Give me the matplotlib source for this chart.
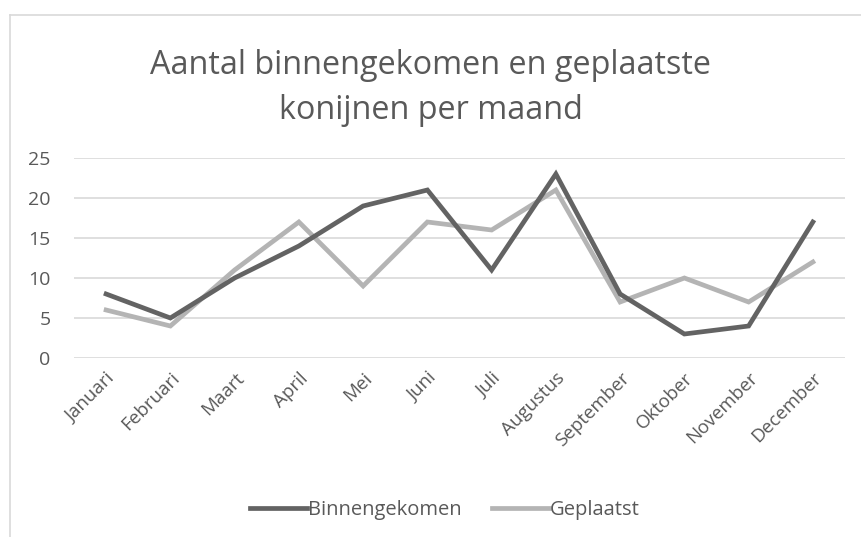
import matplotlib.pyplot as plt
from matplotlib.lines import Line2D

plt.rcParams['font.family'] = ['Open Sans', 'DejaVu Sans']

# data
maanden = ['Januari', 'Februari', 'Maart', 'April', 'Mei', 'Juni', 'Juli',
           'Augustus', 'September', 'Oktober', 'November', 'December']
binnengekomen = [8, 5, 10, 14, 19, 21, 11, 23, 8, 3, 4, 17]
geplaatst = [6, 4, 11, 17, 9, 17, 16, 21, 7, 10, 7, 12]
y_ticks = [0, 5, 10, 15, 20, 25]

text_col = '#595959'
dark = '#636363'
light = '#b4b4b4'

fig = plt.figure(figsize=(8.61, 5.37), dpi=100)
# plot area in pixel terms: x 74..845, y 158..358
ax = fig.add_axes([74 / 861, 1 - 358 / 537, (845 - 74) / 861, 200 / 537])

x = list(range(len(maanden)))
ax.plot(x, geplaatst, color=light, lw=3.4, solid_joinstyle='miter', zorder=3)
ax.plot(x, binnengekomen, color=dark, lw=3.4, solid_joinstyle='miter', zorder=4)

ax.set_xlim(-0.5, len(maanden) - 0.5)
ax.set_ylim(0, 25)
ax.set_yticks(y_ticks)
ax.set_xticks(x)
ax.set_xticklabels(maanden, rotation=45, ha='right', rotation_mode='anchor')
ax.grid(axis='y', color='#d9d9d9', lw=1.2)
ax.set_axisbelow(True)
for s in ax.spines.values():
    s.set_visible(False)
ax.tick_params(axis='both', length=0, colors=text_col, labelsize=13.5)
ax.tick_params(axis='y', labelsize=14, pad=17)
ax.tick_params(axis='x', pad=8)

fig.text(0.5, 1 - 88 / 537, 'Aantal binnengekomen en geplaatste\nkonijnen per maand',
         ha='center', va='center', fontsize=23.3, color=text_col, linespacing=1.5)

handles = [Line2D([], [], color=dark, lw=3.4), Line2D([], [], color=light, lw=3.4)]
fig.legend(handles, ['Binnengekomen', 'Geplaatst'], loc='center',
           bbox_to_anchor=(445 / 861, 1 - 510 / 537), ncol=2, frameon=False,
           fontsize=14.5, labelcolor=text_col, handlelength=2.8,
           handletextpad=0.05, columnspacing=1.55)

# chart border (only top and left visible in the reference)
fig.add_artist(Line2D([10 / 861, 1], [1 - 14.5 / 537] * 2, color='#d9d9d9', lw=1.2))
fig.add_artist(Line2D([10 / 861] * 2, [0, 1 - 14.5 / 537], color='#d9d9d9', lw=1.2))

fig.savefig('out.png', dpi=100, facecolor='white')
